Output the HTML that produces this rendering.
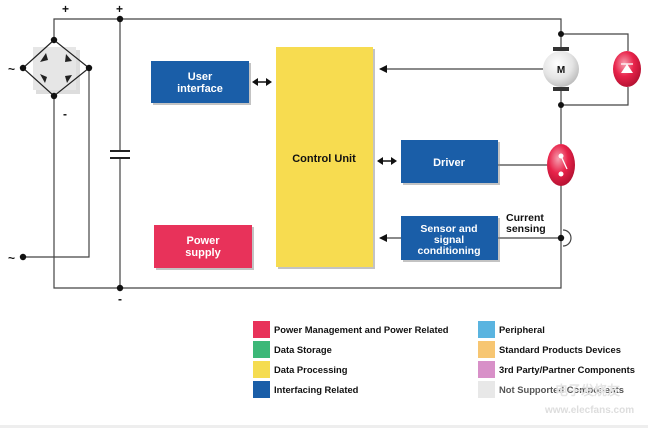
<!DOCTYPE html>
<html><head><meta charset="utf-8"><style>
body{margin:0;background:#fff;}
svg{display:block;font-family:"Liberation Sans",sans-serif;font-weight:bold;}
</style></head><body>
<svg width="648" height="428" viewBox="0 0 648 428" xmlns="http://www.w3.org/2000/svg">
<defs>
<radialGradient id="rg" cx="0.4" cy="0.35" r="0.7"><stop offset="0" stop-color="#f6a0b0"/><stop offset="0.5" stop-color="#e8234a"/><stop offset="1" stop-color="#b01030"/></radialGradient>
<radialGradient id="gg" cx="0.4" cy="0.35" r="0.7"><stop offset="0" stop-color="#ffffff"/><stop offset="0.6" stop-color="#e4e4e4"/><stop offset="1" stop-color="#b8b8b8"/></radialGradient>
<marker id="ar" markerWidth="8" markerHeight="8" refX="7" refY="4" orient="auto" markerUnits="userSpaceOnUse"><path d="M0,0 L8,4 L0,8 Z" fill="#111"/></marker>
</defs>
<g stroke="#444" stroke-width="1.2" fill="none">
<polyline points="54,40 54,19 561,19 561,50"/>
<line x1="120" y1="19" x2="120" y2="151"/>
<line x1="120" y1="158" x2="120" y2="288"/>
<polyline points="54,96 54,288 561,288 561,181"/>
<polyline points="89,68 89,257 23,257"/>
<polyline points="561,34 628,34 628,51"/>
<polyline points="561,105 628,105 628,87"/>
<line x1="561" y1="89" x2="561" y2="144"/>
<line x1="498" y1="165" x2="547" y2="165"/>
<line x1="498" y1="238" x2="561" y2="238"/>
<line x1="543" y1="69" x2="380" y2="69" marker-end="url(#ar)"/>
<line x1="401" y1="238" x2="380" y2="238" marker-end="url(#ar)"/>
<path d="M563,230 A8,8 0 0 1 563,246"/>
</g>
<g stroke="#222" stroke-width="2">
<line x1="110" y1="151" x2="130" y2="151"/><line x1="110" y1="158" x2="130" y2="158"/>
</g>
<g stroke="#111" stroke-width="1.5">
<line x1="256" y1="82" x2="268" y2="82"/><line x1="381" y1="161" x2="393" y2="161"/>
</g>
<g fill="#111">
<path d="M252,82 L258,78 L258,86Z"/><path d="M272,82 L266,78 L266,86Z"/>
<path d="M377,161 L383,157 L383,165Z"/><path d="M397,161 L391,157 L391,165Z"/>
</g>
<rect x="36" y="50" width="44" height="44" fill="#bbb" opacity="0.5"/>
<rect x="33" y="47" width="43" height="43" fill="#e6e6e6"/>
<g stroke="#222" stroke-width="1.2" fill="none"><path d="M54,40 L23,68 L54,96 L89,68 Z"/></g>
<g fill="#222">
<path d="M40,62 L46,53 L48,60Z"/><path d="M66,54 L72,61 L65,62Z"/>
<path d="M40,74 L47,77 L45,83Z"/><path d="M72,75 L67,83 L65,76Z"/>
</g>
<g fill="#111">
<circle cx="54" cy="40" r="3.2"/><circle cx="23" cy="68" r="3.2"/><circle cx="89" cy="68" r="3.2"/><circle cx="54" cy="96" r="3.2"/>
<circle cx="120" cy="19" r="3.2"/><circle cx="120" cy="288" r="3.2"/><circle cx="23" cy="257" r="3.2"/>
<circle cx="561" cy="34" r="3"/><circle cx="561" cy="105" r="3"/><circle cx="561" cy="238" r="3.2"/>
</g>
<g font-size="12" fill="#111">
<text x="62" y="13">+</text><text x="116" y="13">+</text>
<text x="63" y="118">-</text><text x="118" y="303">-</text>
<text x="8" y="73">~</text><text x="8" y="262">~</text>
</g>
<rect x="553" y="47" width="16" height="4" fill="#333"/>
<rect x="553" y="87" width="16" height="4" fill="#333"/>
<circle cx="561" cy="69" r="18" fill="url(#gg)"/>
<text x="561" y="73" font-size="10" text-anchor="middle" fill="#111">M</text>
<ellipse cx="627" cy="69" rx="14" ry="18" fill="url(#rg)"/>
<path d="M621,73 L627,64 L633,73Z" fill="#fff"/><line x1="621" y1="64" x2="633" y2="64" stroke="#fff" stroke-width="1.3"/>
<ellipse cx="561" cy="165" rx="14" ry="21" fill="url(#rg)"/>
<circle cx="561" cy="156" r="2.5" fill="#fff"/><circle cx="561" cy="174" r="2.5" fill="#fff"/>
<line x1="561" y1="156" x2="567" y2="169" stroke="#fff" stroke-width="1.3"/>
<g>
<rect x="153" y="63" width="98" height="42" fill="#888" opacity="0.5"/>
<rect x="151" y="61" width="98" height="42" fill="#1a5ea8"/>
<rect x="156" y="227" width="98" height="43" fill="#888" opacity="0.5"/>
<rect x="154" y="225" width="98" height="43" fill="#e8325a"/>
<rect x="278" y="49" width="97" height="220" fill="#888" opacity="0.5"/>
<rect x="276" y="47" width="97" height="220" fill="#f7dc50"/>
<rect x="403" y="142" width="97" height="43" fill="#888" opacity="0.5"/>
<rect x="401" y="140" width="97" height="43" fill="#1a5ea8"/>
<rect x="403" y="218" width="97" height="44" fill="#888" opacity="0.5"/>
<rect x="401" y="216" width="97" height="44" fill="#1a5ea8"/>
</g>
<g font-size="11" fill="#fff" text-anchor="middle">
<text x="200" y="80">User</text><text x="200" y="92">interface</text>
<text x="203" y="244">Power</text><text x="203" y="256">supply</text>
<text x="449" y="166">Driver</text>
</g>
<g font-size="10.5" fill="#fff" text-anchor="middle">
<text x="449" y="232">Sensor and</text><text x="449" y="243">signal</text><text x="449" y="254">conditioning</text>
</g>
<text x="324" y="162" font-size="11" fill="#111" text-anchor="middle">Control Unit</text>
<text x="506" y="221" font-size="10.5" fill="#111">Current</text>
<text x="506" y="232" font-size="10.5" fill="#111">sensing</text>
<g>
<rect x="253" y="321" width="17" height="17" fill="#e8325a"/>
<rect x="253" y="341" width="17" height="17" fill="#3cb878"/>
<rect x="253" y="361" width="17" height="17" fill="#f5dc50"/>
<rect x="253" y="381" width="17" height="17" fill="#1a5ea8"/>
<rect x="478" y="321" width="17" height="17" fill="#5ab4e0"/>
<rect x="478" y="341" width="17" height="17" fill="#f7c672"/>
<rect x="478" y="361" width="17" height="17" fill="#d890c8"/>
<rect x="478" y="381" width="17" height="17" fill="#e8e8e8"/>
</g>
<g font-size="9.4" fill="#111">
<text x="274" y="333">Power Management and Power Related</text>
<text x="274" y="353">Data Storage</text>
<text x="274" y="373">Data Processing</text>
<text x="274" y="393">Interfacing Related</text>
<text x="499" y="333">Peripheral</text>
<text x="499" y="353">Standard Products Devices</text>
<text x="499" y="373">3rd Party/Partner Components</text>
<text x="499" y="393" fill="#555">Not Supported Components</text>
</g>
<text x="555" y="395" font-size="13" fill="#e4e4e4">电子发烧友</text>
<text x="545" y="413" font-size="10" fill="#ddd">www.elecfans.com</text>
<rect x="0" y="425" width="648" height="3" fill="#eee"/>
</svg>
</body></html>
